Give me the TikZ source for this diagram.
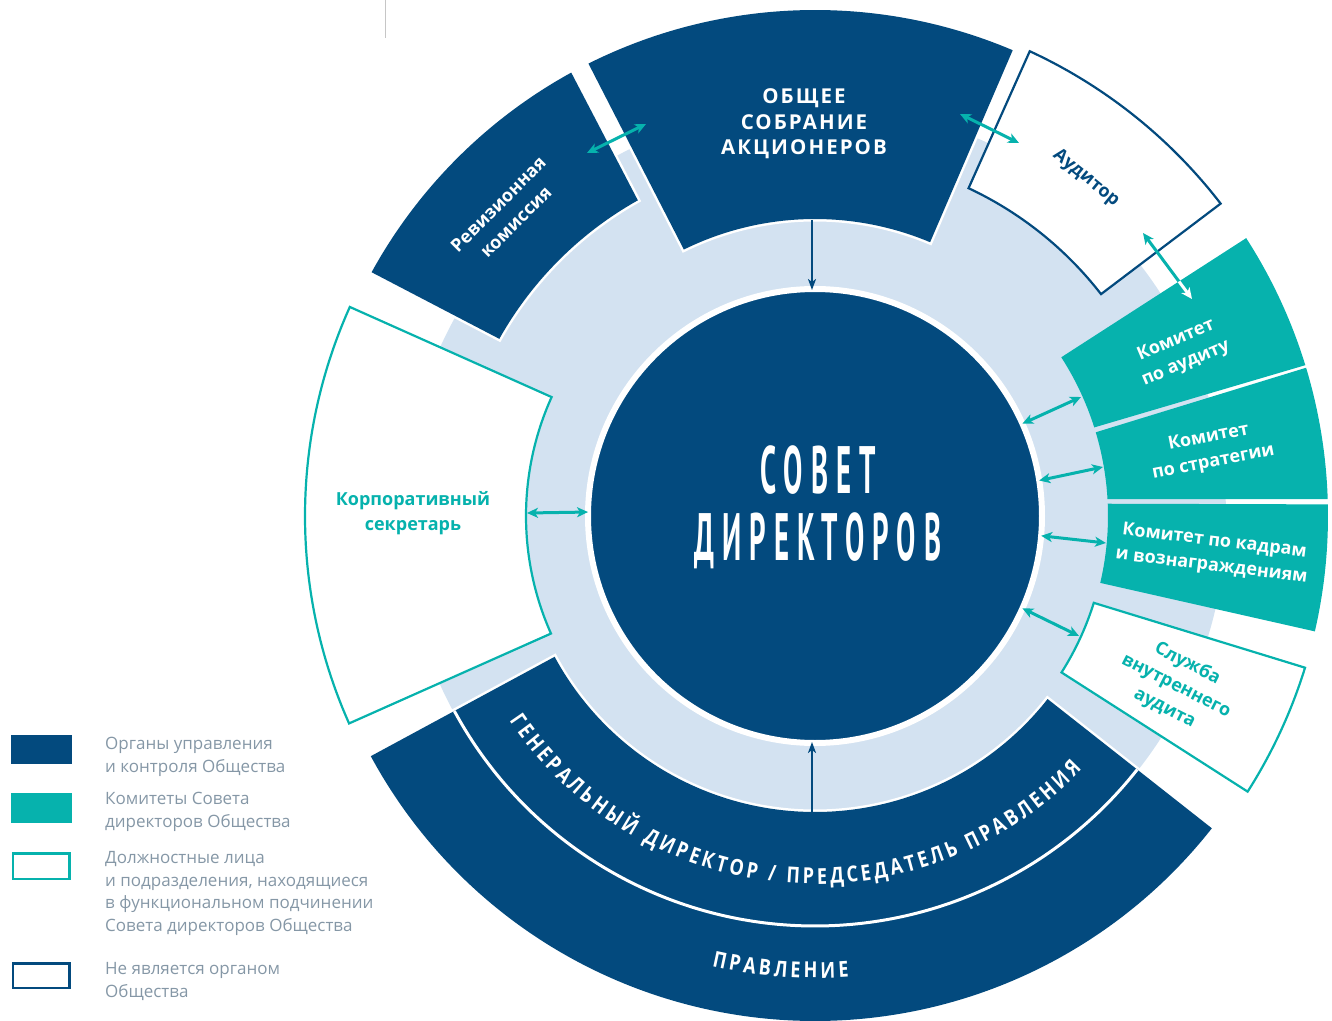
\documentclass[tikz,border=0pt]{standalone}
\usepackage{graphicx}
\usepackage{fontspec}
\setmainfont{Open Sans}
\newfontfamily\capsfont[LetterSpace=10]{Open Sans}
\newfontfamily\gdfont[FakeStretch=0.82]{Open Sans}
\newfontfamily\sovetfont[LetterSpace=28]{PT Sans}
\usetikzlibrary{arrows.meta,decorations.text}
\definecolor{dkblue}{HTML}{034A7E}
\definecolor{teal2}{HTML}{06B2AD}
\definecolor{ltblue}{HTML}{D3E2F1}
\definecolor{leggray}{HTML}{8597A6}
\newcommand\secpath[6]{(#1:#5) arc[start angle=#1,end angle=#2,radius=#5] -- (#4:#6) arc[start angle=#4,end angle=#3,radius=#6] -- cycle}
\begin{document}
\begin{tikzpicture}[x=1pt,y=1pt,
  darksec/.style={fill=dkblue, preaction={draw=white, line width=5pt}},
  tealsec/.style={fill=teal2},
  outsec/.style={fill=white, line width=2.2pt},
  lbl/.style={font=\bfseries\fontsize{18}{25}\selectfont, align=center, inner sep=0},
  twoway/.style={teal2, line width=3pt, {Stealth[length=11pt,width=10pt,inset=3pt]}-{Stealth[length=11pt,width=10pt,inset=3pt]}},
  oneway/.style={dkblue, line width=2pt, -{Stealth[length=11pt,width=8pt,inset=3pt]}},
  legtext/.style={font=\fontsize{17}{22.5}\selectfont, text=leggray, align=left, inner sep=0, anchor=base west},
  legbox/.style={inner sep=0, outer sep=0, anchor=south west},
  sovetstyle/.style={text=white, inner sep=0, anchor=base},
]
\useasboundingbox (-815,-504) rectangle (517,516);
\draw[gray!45, line width=1pt] (-429,516) -- (-429,478);

% light ring and central circle
\fill[ltblue] (0,0) circle[radius=411];
\node[circle, fill=dkblue, draw=white, line width=6pt, minimum size=454pt, inner sep=0, outer sep=0] (sovet) at (0,0) {};

% sections
\path[darksec] \secpath{67.0}{116.6}{67.2}{116.2}{506}{297};
\path[darksec] \secpath{118.8}{151.2}{119.3}{150.7}{506}{362};
\path[outsec, draw=dkblue] \secpath{37.6}{65.2}{37.8}{64.9}{512}{362};
\path[tealsec] \secpath{17.1}{32.8}{17.6}{32.8}{513}{293};
\path[tealsec] \secpath{1.9}{16.8}{3.3}{16.6}{513}{293};
\path[tealsec] \secpath{-13.0}{1.3}{-13.2}{2.4}{513}{293};
\path[outsec, draw=teal2] \secpath{-32.5}{-17.2}{-32.4}{-17.3}{513}{292};
\path[outsec, draw=teal2] \secpath{155.8}{204.0}{155.7}{204.0}{510}{289};
\path[darksec] \secpath{208.4}{321.8}{208.4}{321.8}{505}{296};
\draw[white, line width=3pt] (208.4:410) arc[start angle=208.4, end angle=321.8, radius=410];

% labels
\node[lbl, text=white, font=\capsfont\bfseries\fontsize{20.5}{25.5}\selectfont] (obsh) at (-11,392) {ОБЩЕЕ\\СОБРАНИЕ\\АКЦИОНЕРОВ};
\node[lbl, text=white, rotate=45] (revk) at (-308,303) {Ревизионная\\комиссия};
\node[lbl, text=dkblue, rotate=-39] (aud) at (271,338) {Аудитор};
\node[lbl, text=white, rotate=23] (kaud) at (366,164) {Комитет\\по аудиту};
\node[lbl, text=white, rotate=11] (kstr) at (396,66) {Комитет\\по стратегии};
\node[lbl, text=white, rotate=-7] (kkadr) at (398,-38) {Комитет по кадрам\\и вознаграждениям};
\node[lbl, text=teal2, rotate=-27] (sluz) at (361,-170) {Служба\\внутреннего\\аудита};
\node[lbl, text=teal2] (korp) at (-402,3) {Корпоративный\\секретарь};

\node[sovetstyle] (sov1) at (3,23) {\scalebox{0.43}[1]{\sovetfont\bfseries\fontsize{67}{67}\selectfont СОВЕТ}};
\node[sovetstyle] (sov2) at (3,-44) {\scalebox{0.43}[1]{\sovetfont\bfseries\fontsize{67}{67}\selectfont ДИРЕКТОРОВ}};

\path[decorate, decoration={text along path, text align=fit to path, text color=white,
  text={|\gdfont\bfseries\fontsize{22}{22}\selectfont|ГЕНЕРАЛЬНЫЙ ДИРЕКТОР / ПРЕДСЕДАТЕЛЬ ПРАВЛЕНИЯ}}]
  (213.8:368) arc[start angle=213.8, end angle=316.5, radius=368];
\path[decorate, decoration={text along path, text align=fit to path, text color=white,
  text={|\gdfont\bfseries\fontsize{22}{22}\selectfont|ПРАВЛЕНИЕ}}]
  (257.1:462) arc[start angle=257.1, end angle=274.2, radius=462];

% connectors
\coordinate (rv) at (-228,363);
\coordinate (obL) at (-169,392);
\coordinate (obR) at (145,402);
\coordinate (auL) at (204,373);
\coordinate (auB) at (328,283);
\coordinate (kaT) at (377,217);
\coordinate (kaI) at (266,119);
\coordinate (ksI) at (288,49);
\coordinate (kkI) at (291,-27);
\coordinate (slI) at (264,-120);
\coordinate (kpI) at (-288,3);
\coordinate (obB) at (-3,296);
\coordinate (svT) at (-3,226);
\coordinate (gdT) at (-3,-298);
\coordinate (svB) at (-3,-226);
\draw[twoway] (rv) -- (obL);
\draw[twoway] (obR) -- (auL);
\draw[twoway] (auB) -- (kaT);
\begin{scope}
  \clip \secpath{17.1}{32.8}{17.6}{32.8}{513}{293};
  \draw[twoway, white] (auB) -- (kaT);
\end{scope}
\draw[twoway] (sovet.24) -- (kaI);
\draw[twoway] (sovet.9.4) -- (ksI);
\draw[twoway] (sovet.-5) -- (kkI);
\draw[twoway] (sovet.-24) -- (slI);
\draw[twoway] (kpI) -- (sovet.179.2);
\draw[oneway] (obB) -- (svT);
\draw[oneway] (gdT) -- (svB);

% legend
\node[legbox, fill=dkblue, minimum width=61pt, minimum height=29pt] (lg1) at (-804,-248) {};
\node[legbox, fill=teal2, minimum width=61pt, minimum height=30pt] (lg2) at (-804,-307) {};
\node[legbox, draw=teal2, line width=2.5pt, fill=white, minimum width=56.5pt, minimum height=25.5pt] (lg3) at (-801.75,-362.75) {};
\node[legbox, draw=dkblue, line width=2.5pt, fill=white, minimum width=56.5pt, minimum height=24.5pt] (lg4) at (-801.75,-471.75) {};
\node[legtext] (lt1) at (-710,-256) {Органы управления\\и контроля Общества};
\node[legtext] (lt2) at (-710,-311) {Комитеты Совета\\директоров Общества};
\node[legtext] (lt3) at (-710,-415) {Должностные лица\\и подразделения, находящиеся\\в функциональном подчинении\\Совета директоров Общества};
\node[legtext] (lt4) at (-710,-481) {Не является органом\\Общества};
\end{tikzpicture}
\end{document}
